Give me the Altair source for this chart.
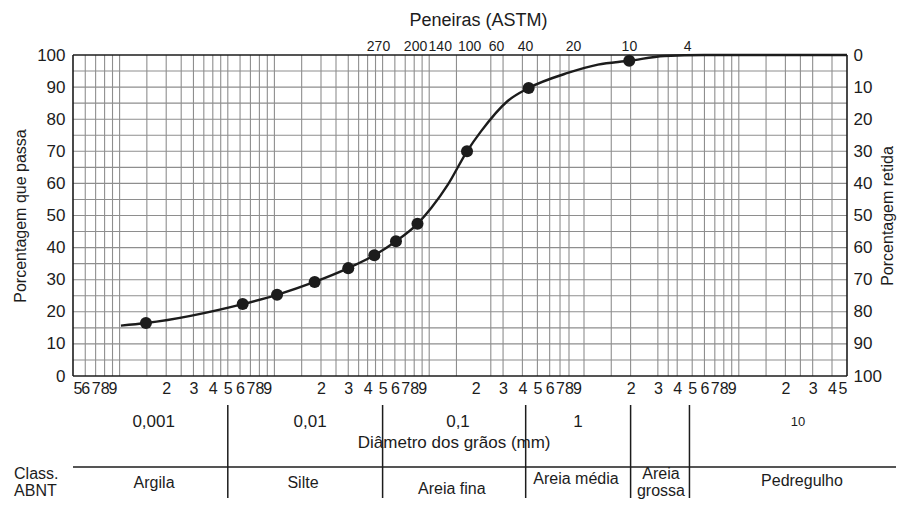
import altair as alt
import pandas as pd

# ---------------- values ----------------
# measured points: grain diameter (mm) and percentage passing
POINT_DIAMETER_MM = [0.00148, 0.00624, 0.0104, 0.0182, 0.0300, 0.0442, 0.0610, 0.0840, 0.1755, 0.439, 1.96]
POINT_PASSING_PCT = [16.5, 22.4, 25.3, 29.3, 33.6, 37.6, 42.0, 47.4, 70.0, 89.7, 98.2]

# smooth grading curve traced through the points
CURVE_DIAMETER_MM = [0.00102, 0.00148, 0.00624, 0.0104, 0.0182, 0.0300, 0.0442, 0.0610, 0.0840,
                     0.103, 0.132, 0.1755, 0.216, 0.32, 0.439, 0.785, 1.23, 1.96, 3.3, 6.0, 50.0]
CURVE_PASSING_PCT = [15.7, 16.5, 22.4, 25.3, 29.3, 33.6, 37.6, 42.0, 47.4,
                     52.3, 59.6, 70.0, 76.2, 85.6, 89.7, 94.4, 97.0, 98.2, 99.7, 100.0, 100.0]

# ASTM sieve numbers (top axis) and where the reference prints them (mm)
SIEVE_NUMBERS = ["270", "200", "140", "100", "60", "40", "20", "10", "4"]
SIEVE_LABEL_MM = [0.0467, 0.081, 0.117, 0.181, 0.27, 0.416, 0.85, 1.95, 4.63]

# log-paper vertical grid lines as drawn in the reference
GRID_DIAMETER_MM = [
    0.0006, 0.0007, 0.0008, 0.0009,
    0.001, 0.0015, 0.002, 0.0025, 0.003, 0.0035, 0.004, 0.0045, 0.005, 0.006, 0.007, 0.008, 0.009,
    0.01, 0.015, 0.02, 0.025, 0.03, 0.035, 0.04, 0.045, 0.05, 0.06, 0.07, 0.08, 0.09,
    0.1, 0.15, 0.25, 0.3, 0.4, 0.5, 0.6, 0.7, 0.8,
    1.0, 1.5, 2.0, 3.0, 3.5, 4.0, 5.0, 6.0, 7.0, 8.0, 9.0,
    10.0, 15.0, 20.0, 25.0, 30.0, 40.0,
]
# bottom digit labels
DIGIT_TICKS_MM = [
    0.0005, 0.0006, 0.0007, 0.0008, 0.0009,
    0.002, 0.003, 0.004, 0.005, 0.006, 0.007, 0.008, 0.009,
    0.02, 0.03, 0.04, 0.05, 0.06, 0.07, 0.08, 0.09,
    0.2, 0.3, 0.4, 0.5, 0.6, 0.7, 0.8, 0.9,
    2.0, 3.0, 4.0, 5.0, 6.0, 7.0, 8.0, 9.0,
    20.0, 30.0, 40.0, 50.0,
]
X_DOMAIN_MM = [0.0005, 50.0]
PERCENT_TICKS = [0, 10, 20, 30, 40, 50, 60, 70, 80, 90, 100]
PERCENT_GRID = [5, 10, 15, 20, 25, 30, 35, 40, 45, 50, 55, 60, 65, 70, 75, 80, 85, 90, 95]
PERCENT_FRAME = [0, 100]

# table under the chart
DECADE_LABELS = ["0,001", "0,01", "0,1", "1", "10"]
DECADE_LABEL_MM = [0.00166, 0.0170, 0.1535, 0.914, 24.1]
ABNT_LIMITS_MM = [0.005, 0.05, 0.42, 2.0, 4.8]
ABNT_CLASSES = ["Argila", "Silte", "Areia fina", "Areia média", "Areia", "grossa", "Pedregulho"]
ABNT_CLASS_MM = [0.00167, 0.0153, 0.14, 0.888, 3.14, 3.14, 25.6]
HEADER_LINES = ["Class.", "ABNT"]
HEADER_MM = 0.000208
TABLE_RULE_MM = [0.0005, 103.7]
AXIS_CAPTION = "Diâmetro dos grãos (mm)"
AXIS_CAPTION_MM = 0.145

# table row layout (px from the top of the table band)
TABLE_H = 92
ROW_DECADE = 19
ROW_CAPTION = 40
ROW_RULE = 64
DIVIDER_SPAN = [2, 95]
CLASS_ROWS = [80, 80, 86, 76, 71, 88, 78]
HEADER_ROWS = [71, 88]

FONT = "Liberation Sans"
INK = "#1c1c1c"
GRID = "#8e8e8e"


def xscale():
    return alt.Scale(type="log", domain=X_DOMAIN_MM, nice=False)


yscale = alt.Scale(domain=[0, 100], nice=False)

digit_expr = "format(datum.value / pow(10, floor(log(datum.value) / LN10 + 1e-6)), '.0f')"
sieve_expr = " : ".join(
    f"datum.value == {mm} ? '{n}'" for n, mm in zip(SIEVE_NUMBERS, SIEVE_LABEL_MM)
) + " : ''"

common_axis = dict(ticks=False, domain=False, grid=False, labelOverlap=False)

# --- main panel ---
grid_v = alt.Chart(pd.DataFrame({"d": GRID_DIAMETER_MM})).mark_rule(
    color=GRID, strokeWidth=1.1
).encode(
    x=alt.X("d:Q", scale=xscale(), title=None,
            axis=alt.Axis(orient="bottom", values=DIGIT_TICKS_MM, labelExpr=digit_expr,
                          labelFlush=True, labelPadding=4, labelFontSize=16, **common_axis))
)

grid_h = alt.Chart(pd.DataFrame({"p": PERCENT_GRID})).mark_rule(
    color=GRID, strokeWidth=1.1
).encode(
    y=alt.Y("p:Q", scale=yscale, title="Porcentagem que passa",
            axis=alt.Axis(orient="left", values=PERCENT_TICKS, labelPadding=8, labelFontSize=17,
                          titleFontSize=16, titlePadding=8, **common_axis))
)

frame_v = alt.Chart(pd.DataFrame({"d": X_DOMAIN_MM})).mark_rule(color=INK, strokeWidth=1.6).encode(
    x=alt.X("d:Q", scale=xscale(), axis=None)
)
frame_h = alt.Chart(pd.DataFrame({"p": PERCENT_FRAME})).mark_rule(color=INK, strokeWidth=1.6).encode(
    y=alt.Y("p:Q", scale=yscale, axis=None)
)

curve = alt.Chart(pd.DataFrame({"d": CURVE_DIAMETER_MM, "p": CURVE_PASSING_PCT})).mark_line(
    color=INK, strokeWidth=2.4, interpolate="monotone"
).encode(
    x=alt.X("d:Q", scale=xscale(), axis=None),
    y=alt.Y("p:Q", scale=yscale, axis=None),
)

points = alt.Chart(pd.DataFrame({"d": POINT_DIAMETER_MM, "p": POINT_PASSING_PCT})).mark_circle(
    color=INK, size=145, opacity=1
).encode(
    x=alt.X("d:Q", scale=xscale(), title="Peneiras (ASTM)",
            axis=alt.Axis(orient="top", values=SIEVE_LABEL_MM, labelExpr=sieve_expr,
                          labelFlush=False, labelPadding=2, labelFontSize=14,
                          titleFontSize=18, titlePadding=10, titleX=405, **common_axis)),
    y=alt.Y("p:Q", scale=yscale, title="Porcentagem retida",
            axis=alt.Axis(orient="right", values=PERCENT_TICKS, labelExpr="'' + (100 - datum.value)",
                          labelPadding=6, labelFontSize=17, titleFontSize=16, titlePadding=14,
                          titleAngle=270, **common_axis)),
)

main = alt.layer(grid_v, grid_h, frame_v, frame_h, curve, points).resolve_axis(
    x="independent", y="independent"
).properties(width=774, height=321)

# --- classification table ---
ty = alt.Scale(domain=[TABLE_H, 0], nice=False)

decades = alt.Chart(pd.DataFrame({"d": DECADE_LABEL_MM, "label": DECADE_LABELS, "r": [ROW_DECADE] * 5})).mark_text(
    font=FONT, color=INK, baseline="middle"
).encode(
    x=alt.X("d:Q", scale=xscale(), axis=None),
    y=alt.Y("r:Q", scale=ty, axis=None),
    text="label:N",
    size=alt.condition("datum.label == '10'", alt.value(13), alt.value(17)),
)

caption = alt.Chart(pd.DataFrame({"d": [AXIS_CAPTION_MM], "label": [AXIS_CAPTION], "r": [ROW_CAPTION]})).mark_text(
    font=FONT, color=INK, baseline="middle", fontSize=17
).encode(
    x=alt.X("d:Q", scale=xscale(), axis=None),
    y=alt.Y("r:Q", scale=ty, axis=None),
    text="label:N",
)

dividers = alt.Chart(pd.DataFrame({"d": ABNT_LIMITS_MM, "r0": [DIVIDER_SPAN[0]] * 5, "r1": [DIVIDER_SPAN[1]] * 5})).mark_rule(
    color=INK, strokeWidth=1.5
).encode(
    x=alt.X("d:Q", scale=xscale(), axis=None),
    y=alt.Y("r0:Q", scale=ty, axis=None),
    y2="r1:Q",
)

hline = alt.Chart(pd.DataFrame({"d0": [TABLE_RULE_MM[0]], "d1": [TABLE_RULE_MM[1]], "r": [ROW_RULE]})).mark_rule(
    color=INK, strokeWidth=1.5
).encode(
    x=alt.X("d0:Q", scale=xscale(), axis=None),
    x2="d1:Q",
    y=alt.Y("r:Q", scale=ty, axis=None),
)

classes = alt.Chart(pd.DataFrame({"d": ABNT_CLASS_MM, "label": ABNT_CLASSES, "r": CLASS_ROWS})).mark_text(
    font=FONT, color=INK, baseline="middle", fontSize=16
).encode(
    x=alt.X("d:Q", scale=xscale(), axis=None),
    y=alt.Y("r:Q", scale=ty, axis=None),
    text="label:N",
)

header = alt.Chart(pd.DataFrame({"d": [HEADER_MM] * 2, "label": HEADER_LINES, "r": HEADER_ROWS})).mark_text(
    font=FONT, color=INK, baseline="middle", align="left", fontSize=16
).encode(
    x=alt.X("d:Q", scale=xscale(), axis=None),
    y=alt.Y("r:Q", scale=ty, axis=None),
    text="label:N",
)

table = alt.layer(dividers, hline, decades, caption, classes, header).properties(width=774, height=TABLE_H)

chart = alt.vconcat(main, table, spacing=7).resolve_scale(
    x="independent", y="independent"
).properties(
    padding={"left": 4, "top": 3, "right": 0, "bottom": 0}
).configure_view(
    strokeWidth=0
).configure_axis(
    labelFont=FONT, titleFont=FONT, labelColor=INK, titleColor=INK, titleFontWeight="normal"
)

chart.save("out.html", embed_options={"renderer": "svg", "actions": False})
